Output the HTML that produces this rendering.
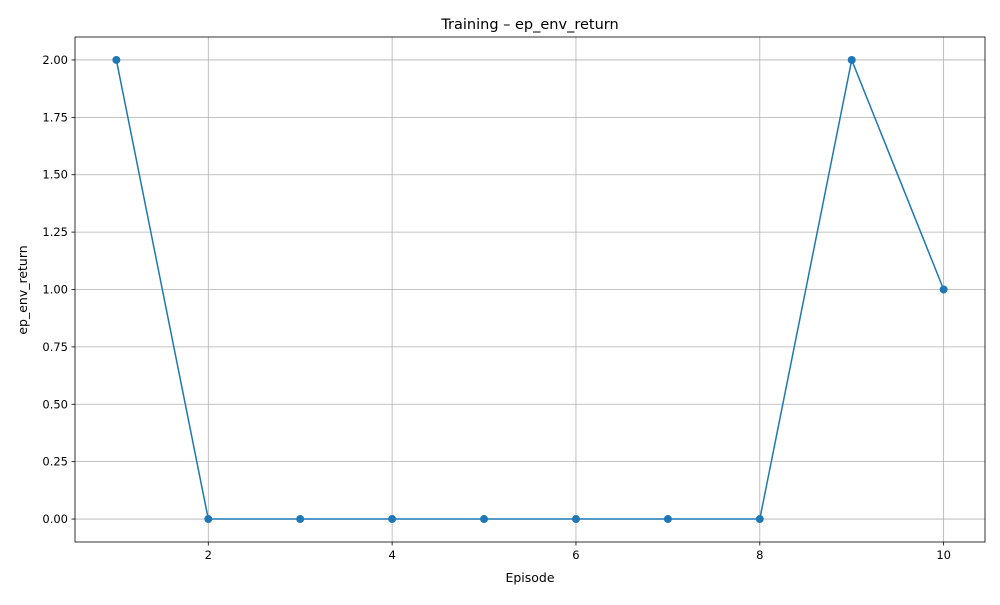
<!DOCTYPE html>
<html><head><meta charset="utf-8"><style>
body{margin:0;background:#fff;font-family:"Liberation Sans","DejaVu Sans",sans-serif;}
svg text{font-family:"DejaVu Sans","Liberation Sans",sans-serif;}
</style></head><body>
<svg id="chart" width="1000" height="600">
<rect width="1000" height="600" fill="#fff"/>
<g id="grid"></g>
<g id="ticks"></g>
<polyline id="line" fill="none" stroke="#1f77b4" stroke-width="1.5"/>
<g id="points"></g>
<rect x="75" y="37" width="910" height="505" fill="none" stroke="#000" stroke-width="0.8"/>
<text x="530" y="29" font-size="14.5" text-anchor="middle">Training – ep_env_return</text>
<text x="530" y="582" font-size="12.5" text-anchor="middle">Episode</text>
<text x="27" y="290" font-size="12.5" text-anchor="middle" transform="rotate(-90 27 290)">ep_env_return</text>
</svg>
<script>
const episodes=[1,2,3,4,5,6,7,8,9,10];
const returns=[2,0,0,0,0,0,0,0,2,1];
const xTicks=[2,4,6,8,10];
const yTicks=[0,0.25,0.5,0.75,1,1.25,1.5,1.75,2];
const L=75,R=985,T=37,B=542,x0=0.55,x1=10.45,y0=-0.1,y1=2.1;
const sx=v=>L+(v-x0)/(x1-x0)*(R-L);
const sy=v=>B-(v-y0)/(y1-y0)*(B-T);
const NS="http://www.w3.org/2000/svg";
const grid=document.getElementById('grid'),ticks=document.getElementById('ticks'),pts=document.getElementById('points');
function mk(tag,attrs,parent){const e=document.createElementNS(NS,tag);for(const k in attrs)e.setAttribute(k,attrs[k]);parent.appendChild(e);return e;}
xTicks.forEach(v=>{const x=sx(v);
const g=mk('line',{x1:x,x2:x,y1:T,y2:B,stroke:'#b0b0b0','stroke-width':0.8},grid);


mk('line',{x1:x,x2:x,y1:B,y2:B+3.5,stroke:'#000','stroke-width':0.8},ticks);
const t=mk('text',{x:x,y:B+17,'font-size':11.5,'text-anchor':'middle'},ticks);t.textContent=v;

});
yTicks.forEach(v=>{const y=sy(v);
const g=mk('line',{x1:L,x2:R,y1:y,y2:y,stroke:'#b0b0b0','stroke-width':0.8},grid);


mk('line',{x1:L-3.5,x2:L,y1:y,y2:y,stroke:'#000','stroke-width':0.8},ticks);
const t=mk('text',{x:L-7,y:y+4,'font-size':11.5,'text-anchor':'end'},ticks);t.textContent=v.toFixed(2);

});
document.getElementById('line').setAttribute('points',episodes.map((e,i)=>sx(e)+','+sy(returns[i])).join(' '));
episodes.forEach((e,i)=>{const c=mk('circle',{cx:sx(e),cy:sy(returns[i]),r:4,fill:'#1f77b4'},pts);

});
</script>
</body></html>
